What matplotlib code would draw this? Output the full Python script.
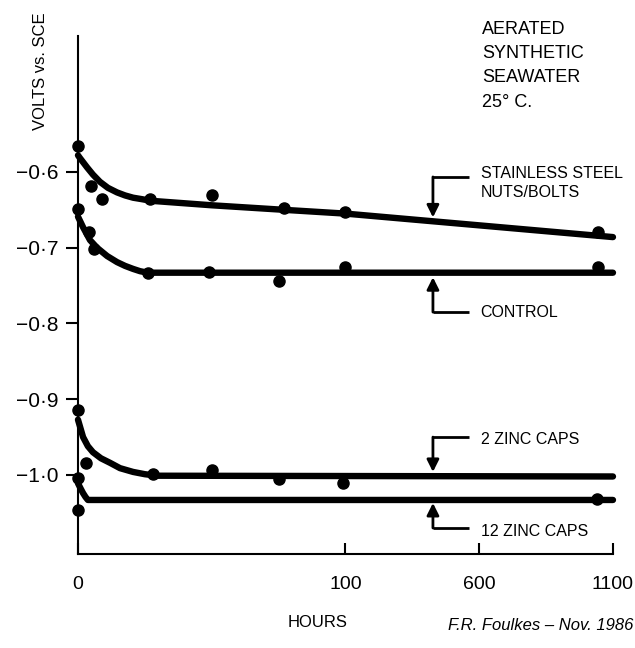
import numpy as np
import matplotlib
matplotlib.use("Agg")
import matplotlib.pyplot as plt

plt.rcParams['font.family'] = ['Liberation Sans', 'DejaVu Sans']

# measured points (hours, volts vs SCE)
ss_t = [0, 5, 9, 27, 50, 77, 100, 1045]
ss_v = [-0.566, -0.618, -0.636, -0.636, -0.630, -0.648, -0.653, -0.679]
ctl_t = [0, 4, 6, 26, 49, 75, 100, 1045]
ctl_v = [-0.649, -0.679, -0.702, -0.733, -0.732, -0.744, -0.725, -0.725]
zn2_t = [0, 3, 28, 50, 75, 99]
zn2_v = [-0.914, -0.984, -0.999, -0.993, -1.005, -1.011]
zn12_t = [0, 0, 1040]
zn12_v = [-1.004, -1.046, -1.032]

# hand-drawn trend curves
ss_ct = [0, 0.7, 3.4, 5.6, 8.2, 11.2, 14.6, 17.6, 20.6, 24, 27, 50, 77, 100, 1100]
ss_cv = [-0.578, -0.5815, -0.594, -0.6035, -0.613, -0.621, -0.627, -0.631, -0.634, -0.636,
         -0.638, -0.644, -0.650, -0.655, -0.686]
ctl_ct = [0, 1.9, 4.5, 7.1, 10.9, 14.6, 17.6, 20.6, 23.2, 26, 1100]
ctl_cv = [-0.659, -0.673, -0.690, -0.700, -0.711, -0.719, -0.724, -0.728, -0.731, -0.733,
          -0.733]
zn2_ct = [0, 1.9, 3.7, 5.6, 8.6, 12, 15.7, 20.6, 25, 29.6, 1100]
zn2_cv = [-0.927, -0.950, -0.962, -0.970, -0.978, -0.984, -0.991, -0.996, -0.999, -1.001,
          -1.002]
zn12_ct = [0, 1.0, 1.9, 2.8, 3.7, 1100]
zn12_cv = [-1.011, -1.018, -1.024, -1.029, -1.033, -1.033]

yticks = [-0.6, -0.7, -0.8, -0.9, -1.0]
ytick_labels = ['\u22120\u00b76', '\u22120\u00b77', '\u22120\u00b78', '\u22120\u00b79', '\u22121\u00b70']
xticks = [0, 100, 600, 1100]


def fwd(x):
    x = np.asarray(x, dtype=float)
    return np.where(x <= 100, x / 50.0, 2 + (x - 100) / 500.0)


def inv(u):
    u = np.asarray(u, dtype=float)
    return np.where(u <= 2, u * 50.0, 100 + (u - 2) * 500.0)


fig = plt.figure(figsize=(6.35, 6.48), dpi=100)
ax = fig.add_axes([0.1228, 0.1451, 0.8425, 0.7994])
ax.set_xscale('function', functions=(fwd, inv))
ax.set_xlim(0, 1100)
ax.set_ylim(-1.1043, -0.4205)

for ct, cv in [(ss_ct, ss_cv), (ctl_ct, ctl_cv), (zn2_ct, zn2_cv), (zn12_ct, zn12_cv)]:
    ax.plot(ct, cv, color='black', lw=4.6, solid_capstyle='round', solid_joinstyle='round',
            clip_on=False, zorder=3)
for t, v in [(ss_t, ss_v), (ctl_t, ctl_v), (zn2_t, zn2_v), (zn12_t, zn12_v)]:
    ax.plot(t, v, 'o', color='black', ms=8, clip_on=False, zorder=4)

for s in ['top', 'right']:
    ax.spines[s].set_visible(False)
for s in ['left', 'bottom']:
    ax.spines[s].set_linewidth(1.5)

ax.set_yticks(yticks)
ax.set_yticklabels(ytick_labels)
ax.set_xticks(xticks)
ax.set_xticklabels([str(x) for x in xticks])
ax.tick_params(axis='y', direction='out', length=9, width=1.5, pad=5, labelsize=15)
ax.tick_params(axis='x', direction='in', length=8, width=1.5, pad=16, labelsize=14)
ax.minorticks_off()

fig.text(0.063, 0.89, 'VOLTS vs. SCE', rotation=90, ha='center', va='center', fontsize=12)
fig.text(0.50, 0.04, 'HOURS', ha='center', va='center', fontsize=12)
fig.text(0.997, 0.035, 'F.R. Foulkes \u2013 Nov. 1986', ha='right', va='center', fontsize=12,
         style='italic')

ax.text(610, -0.401, 'AERATED\nSYNTHETIC\nSEAWATER\n25\u00b0 C.', ha='left', va='top',
        fontsize=13, linespacing=1.55)

# labels with leader arrows: (text, text y, leader y, tip y)
labels = [
    ('STAINLESS STEEL\nNUTS/BOLTS', -0.6145, -0.6066, -0.660),
    ('CONTROL', -0.786, -0.785, -0.739),
    ('2 ZINC CAPS', -0.953, -0.950, -0.996),
    ('12 ZINC CAPS', -1.075, -1.070, -1.037),
]
x_arrow, x_lead = 427, 560
for txt, ty, ly, tip in labels:
    ax.plot([x_arrow, x_lead], [ly, ly], color='black', lw=2, solid_capstyle='butt')
    ax.annotate('', xy=(x_arrow, tip), xytext=(x_arrow, ly),
                arrowprops=dict(arrowstyle='-|>', color='black', lw=2, shrinkA=0, shrinkB=0,
                                mutation_scale=18))
    ax.text(605, ty, txt, ha='left', va='center', fontsize=11.5, linespacing=1.4)

fig.savefig('out.png', dpi=100)
